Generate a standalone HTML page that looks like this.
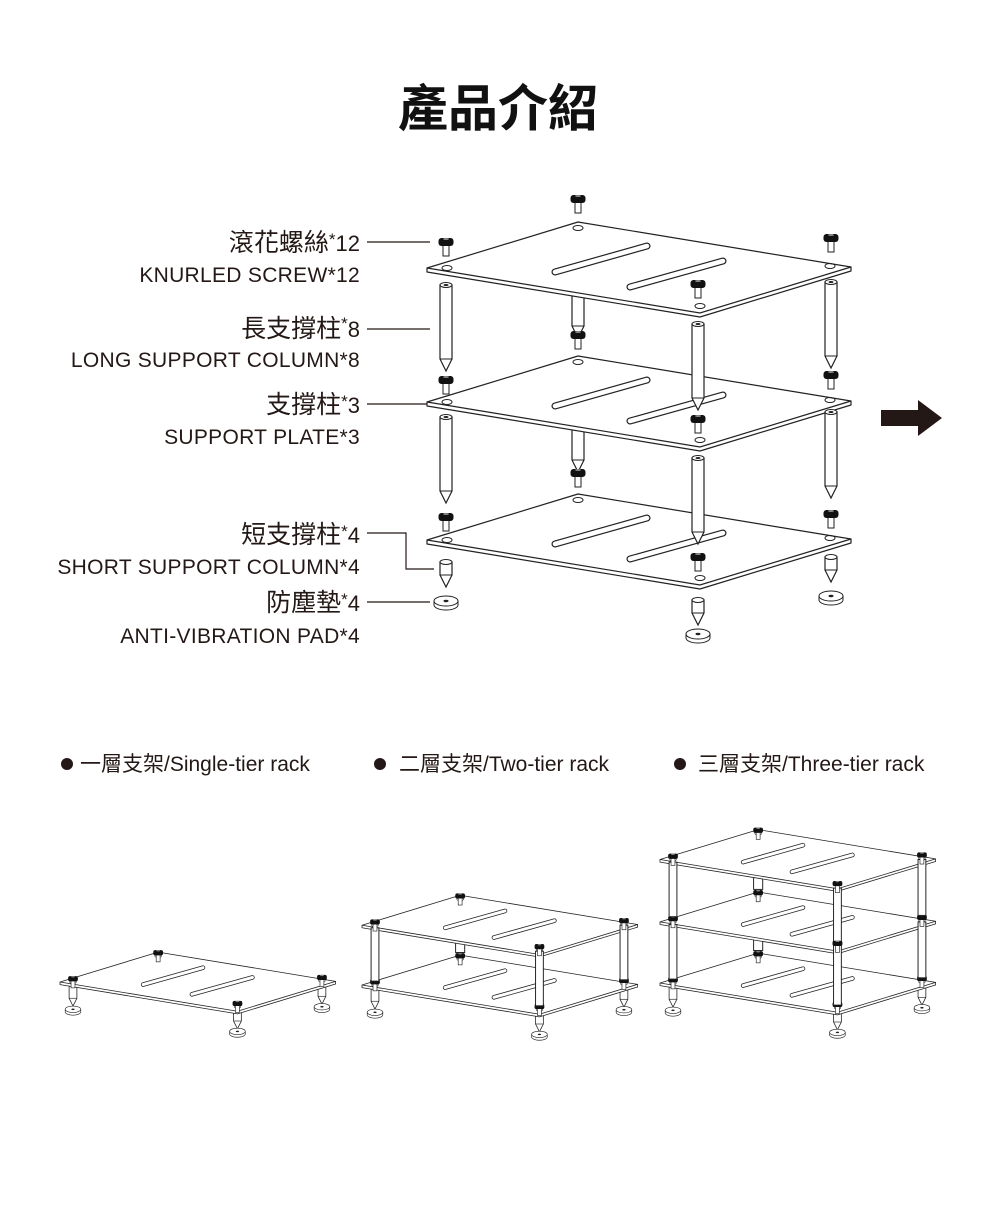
<!DOCTYPE html>
<html><head><meta charset="utf-8"><style>
html,body{margin:0;padding:0;background:#fff;}
body{width:1000px;height:1200px;overflow:hidden;}
</style></head><body>
<svg width="1000" height="1200" viewBox="0 0 1000 1200" xmlns="http://www.w3.org/2000/svg" font-family="'Liberation Sans','Noto Sans CJK TC',sans-serif">
<defs>
<g id="plate">
  <polygon points="0,4 0,0 151,-46 424,-1 424,3 273,49" fill="#fff" stroke="#222" stroke-width="1.2" stroke-linejoin="round"/>
  <polyline points="0,0 273,45 424,-1" fill="none" stroke="#222" stroke-width="1.2"/>
  <ellipse cx="20" cy="0" rx="5" ry="2.5" fill="none" stroke="#222" stroke-width="1"/>
  <ellipse cx="151" cy="-40" rx="5" ry="2.5" fill="none" stroke="#222" stroke-width="1"/>
  <ellipse cx="403" cy="-2" rx="5" ry="2.5" fill="none" stroke="#222" stroke-width="1"/>
  <ellipse cx="273" cy="38" rx="5" ry="2.5" fill="none" stroke="#222" stroke-width="1"/>
  <line x1="128" y1="4" x2="220" y2="-22" stroke="#222" stroke-width="7" stroke-linecap="round"/>
  <line x1="128" y1="4" x2="220" y2="-22" stroke="#fff" stroke-width="4.6" stroke-linecap="round"/>
  <line x1="203" y1="19" x2="296" y2="-7" stroke="#222" stroke-width="7" stroke-linecap="round"/>
  <line x1="203" y1="19" x2="296" y2="-7" stroke="#fff" stroke-width="4.6" stroke-linecap="round"/>
</g>
<g id="screw">
  <rect x="-3" y="2" width="6" height="11" fill="#fff" stroke="#222" stroke-width="1"/>
  <rect x="-7.5" y="-5" width="15" height="8" rx="3" fill="#111"/>
  <ellipse cx="0" cy="-4" rx="3" ry="1" fill="#888"/>
</g>
<g id="longcol">
  <path d="M-6,0 L-6,74 L0,86 L6,74 L6,0 Z" fill="#fff" stroke="#222" stroke-width="1.2"/>
  <line x1="-6" y1="74" x2="6" y2="74" stroke="#222" stroke-width="1"/>
  <ellipse cx="0" cy="0" rx="6" ry="2.5" fill="#fff" stroke="#222" stroke-width="1"/>
  <ellipse cx="0" cy="0" rx="2.5" ry="1" fill="#222"/>
</g>
<g id="stub">
  <path d="M-6,0 L-6,20 L0,32 L6,20 L6,0" fill="#fff" stroke="#222" stroke-width="1.2"/>
  <line x1="-6" y1="20" x2="6" y2="20" stroke="#222" stroke-width="1"/>
</g>
<g id="shortcol">
  <path d="M-6,0 L-6,13 L0,25 L6,13 L6,0 Z" fill="#fff" stroke="#222" stroke-width="1.2"/>
  <line x1="-6" y1="13" x2="6" y2="13" stroke="#222" stroke-width="1"/>
  <ellipse cx="0" cy="0" rx="6" ry="2.5" fill="#fff" stroke="#222" stroke-width="1"/>
</g>
<g id="pad">
  <path d="M-12,0 L-12,4 A12,5 0 0 0 12,4 L12,0" fill="#fff" stroke="#222" stroke-width="1"/>
  <ellipse cx="0" cy="0" rx="12" ry="5" fill="#fff" stroke="#222" stroke-width="1"/>
  <ellipse cx="0" cy="0" rx="2.5" ry="1.2" fill="#222"/>
</g>
</defs>

<text x="498" y="126" text-anchor="middle" font-size="50" font-weight="bold" fill="#111">產品介紹</text>

<!-- labels -->
<g fill="#231815" text-anchor="end">
  <text x="360" y="251" font-size="25">滾花螺絲<tspan font-size="17" dy="-6">*</tspan><tspan font-size="22" dy="6">12</tspan></text>
  <text x="360" y="282" font-size="21" letter-spacing="0.3">KNURLED SCREW*12</text>
  <text x="360" y="337" font-size="25">長支撐柱<tspan font-size="17" dy="-8">*</tspan><tspan font-size="22" dy="8">8</tspan></text>
  <text x="360" y="367" font-size="21" letter-spacing="0.3">LONG SUPPORT COLUMN*8</text>
  <text x="360" y="413" font-size="25">支撐柱<tspan font-size="17" dy="-6">*</tspan><tspan font-size="22" dy="6">3</tspan></text>
  <text x="360" y="444" font-size="21" letter-spacing="0.3">SUPPORT PLATE*3</text>
  <text x="360" y="543" font-size="25">短支撐柱<tspan font-size="17" dy="-6">*</tspan><tspan font-size="22" dy="6">4</tspan></text>
  <text x="360" y="574" font-size="21" letter-spacing="0.3">SHORT SUPPORT COLUMN*4</text>
  <text x="360" y="611" font-size="25">防塵墊<tspan font-size="17" dy="-6">*</tspan><tspan font-size="22" dy="6">4</tspan></text>
  <text x="360" y="643" font-size="21" letter-spacing="0.3">ANTI-VIBRATION PAD*4</text>
</g>
<g stroke="#231815" stroke-width="1.2" fill="none">
  <line x1="367" y1="242" x2="430" y2="242"/>
  <line x1="367" y1="329" x2="430" y2="329"/>
  <line x1="367" y1="404" x2="428" y2="404"/>
  <polyline points="367,533 406,533 406,569 434,569"/>
  <line x1="367" y1="602" x2="430" y2="602"/>
</g>

<!-- exploded -->
<use href="#screw" x="578" y="200"/>
<use href="#longcol" x="578" y="252"/>
<use href="#plate" x="427" y="268"/>
<use href="#screw" x="446" y="243"/>
<use href="#screw" x="831" y="239"/>
<use href="#screw" x="698" y="285"/>
<use href="#longcol" x="446" y="285"/>
<use href="#longcol" x="831" y="282"/>
<use href="#screw" x="578" y="336"/>
<use href="#longcol" x="578" y="386"/>
<use href="#screw" x="446" y="381"/>
<use href="#screw" x="831" y="376"/>
<use href="#plate" x="427" y="402"/>
<use href="#longcol" x="698" y="324"/>
<use href="#screw" x="698" y="420"/>
<use href="#longcol" x="446" y="417"/>
<use href="#longcol" x="831" y="412"/>
<use href="#screw" x="578" y="474"/>
<use href="#screw" x="446" y="518"/>
<use href="#screw" x="831" y="515"/>
<use href="#plate" x="427" y="540"/>
<use href="#longcol" x="698" y="458"/>
<use href="#screw" x="698" y="558"/>
<use href="#shortcol" x="446" y="562"/>
<use href="#shortcol" x="831" y="557"/>
<use href="#shortcol" x="698" y="600"/>
<use href="#pad" x="446" y="601"/>
<use href="#pad" x="831" y="596"/>
<use href="#pad" x="698" y="634"/>

<!-- arrow -->
<polygon points="881,410 918,410 918,400 942,418 918,436 918,426 881,426" fill="#231815"/>

<!-- legend -->
<g fill="#231815" font-size="21">
  <circle cx="67" cy="764" r="6"/>
  <text x="80" y="771">一層支架/Single-tier rack</text>
  <circle cx="380" cy="764" r="6"/>
  <text x="399" y="771">二層支架/Two-tier rack</text>
  <circle cx="680" cy="764" r="6"/>
  <text x="698" y="771">三層支架/Three-tier rack</text>
</g>

<!-- single tier -->
<g transform="translate(60,982) scale(0.65)">
  <use href="#stub" x="20" y="5"/><use href="#pad" x="20" y="42"/>
  <use href="#stub" x="403" y="2"/><use href="#pad" x="403" y="38"/>
  <use href="#stub" x="273" y="40"/><use href="#pad" x="273" y="76"/>
  <use href="#plate" x="0" y="0"/>
  <use href="#screw" x="20" y="-4"/><use href="#screw" x="151" y="-44"/><use href="#screw" x="403" y="-6"/><use href="#screw" x="273" y="34"/>
</g>

<!-- two tier -->
<g transform="translate(362,985) scale(0.65)">
  <use href="#stub" x="20" y="5"/><use href="#pad" x="20" y="42"/>
  <use href="#stub" x="403" y="2"/><use href="#pad" x="403" y="38"/>
  <use href="#stub" x="273" y="40"/><use href="#pad" x="273" y="76"/>
  <use href="#plate" x="0" y="0"/>
  <use href="#screw" x="20" y="-4"/><use href="#screw" x="151" y="-44"/><use href="#screw" x="403" y="-6"/><use href="#screw" x="273" y="34"/>
  <rect x="144" y="-90" width="14" height="40" fill="#fff" stroke="#222" stroke-width="1.5"/>
  <use href="#plate" x="0" y="-92"/>
  <rect x="14" y="-88" width="12" height="82" fill="#fff" stroke="#222" stroke-width="1.5"/>
  <rect x="397" y="-92" width="12" height="84" fill="#fff" stroke="#222" stroke-width="1.5"/>
  <rect x="267" y="-52" width="12" height="84" fill="#fff" stroke="#222" stroke-width="1.5"/>
  <use href="#screw" x="20" y="-96"/><use href="#screw" x="151" y="-136"/><use href="#screw" x="403" y="-98"/><use href="#screw" x="273" y="-58"/>
</g>

<!-- three tier -->
<g transform="translate(660,983) scale(0.65)">
  <use href="#stub" x="20" y="5"/><use href="#pad" x="20" y="42"/>
  <use href="#stub" x="403" y="2"/><use href="#pad" x="403" y="38"/>
  <use href="#stub" x="273" y="40"/><use href="#pad" x="273" y="76"/>
  <use href="#plate" x="0" y="0"/>
  <use href="#screw" x="20" y="-4"/><use href="#screw" x="151" y="-44"/><use href="#screw" x="403" y="-6"/><use href="#screw" x="273" y="34"/>
  <rect x="144" y="-90" width="14" height="40" fill="#fff" stroke="#222" stroke-width="1.5"/>
  <use href="#plate" x="0" y="-94"/>
  <rect x="14" y="-90" width="12" height="84" fill="#fff" stroke="#222" stroke-width="1.5"/>
  <rect x="397" y="-94" width="12" height="86" fill="#fff" stroke="#222" stroke-width="1.5"/>
  <use href="#screw" x="20" y="-98"/><use href="#screw" x="151" y="-138"/><use href="#screw" x="403" y="-100"/><use href="#screw" x="273" y="-60"/>
  <rect x="144" y="-184" width="14" height="40" fill="#fff" stroke="#222" stroke-width="1.5"/>
  <use href="#plate" x="0" y="-190"/>
  <rect x="14" y="-186" width="12" height="84" fill="#fff" stroke="#222" stroke-width="1.5"/>
  <rect x="397" y="-190" width="12" height="86" fill="#fff" stroke="#222" stroke-width="1.5"/>
  <rect x="267" y="-146" width="12" height="180" fill="#fff" stroke="#222" stroke-width="1.5"/>
  <use href="#screw" x="273" y="-60"/>
  <use href="#screw" x="20" y="-194"/><use href="#screw" x="151" y="-234"/><use href="#screw" x="403" y="-196"/><use href="#screw" x="273" y="-152"/>
</g>
</svg>
</body></html>
